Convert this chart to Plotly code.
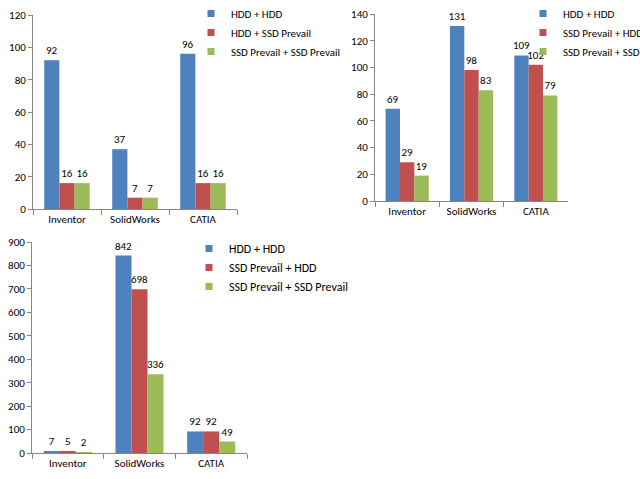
import plotly.graph_objects as go

categories = ["Inventor", "SolidWorks", "CATIA"]

c1_series = ["HDD + HDD", "HDD + SSD Prevail", "SSD Prevail + SSD Prevail"]
c1_hdd_hdd = [92, 37, 96]
c1_hdd_ssd = [16, 7, 16]
c1_ssd_ssd = [16, 7, 16]
c1_ticks = [0, 20, 40, 60, 80, 100, 120]

c2_series = ["HDD + HDD", "SSD Prevail + HDD", "SSD Prevail + SSD Prevail"]
c2_hdd_hdd = [69, 131, 109]
c2_ssd_hdd = [29, 98, 102]
c2_ssd_ssd = [19, 83, 79]
c2_ticks = [0, 20, 40, 60, 80, 100, 120, 140]

c3_series = ["HDD + HDD", "SSD Prevail + HDD", "SSD Prevail + SSD Prevail"]
c3_hdd_hdd = [7, 842, 92]
c3_ssd_hdd = [5, 698, 92]
c3_ssd_ssd = [2, 336, 49]
c3_ticks = [0, 100, 200, 300, 400, 500, 600, 700, 800, 900]

colors = ["#4F81BD", "#C0504D", "#9BBB59"]
FONT = "Carlito, Calibri, Lato, sans-serif"
W, H = 640, 479

fig = go.Figure()

charts = [
    (c1_series, [c1_hdd_hdd, c1_hdd_ssd, c1_ssd_ssd], "x", "y", "legend"),
    (c2_series, [c2_hdd_hdd, c2_ssd_hdd, c2_ssd_ssd], "x2", "y2", "legend2"),
    (c3_series, [c3_hdd_hdd, c3_ssd_hdd, c3_ssd_ssd], "x3", "y3", "legend3"),
]

for names, vals, xa, ya, lg in charts:
    for name, v, col in zip(names, vals, colors):
        fig.add_trace(go.Bar(
            x=categories, y=v, name=name, marker=dict(color=col, line=dict(width=0)),
            text=v, textposition="outside", constraintext="none", cliponaxis=False,
            textfont=dict(family=FONT, size=11, color="#000000"),
            xaxis=xa, yaxis=ya, showlegend=False,
        ))
    for name, col in zip(names, colors):
        # legend key only (small square swatch like the reference)
        fig.add_trace(go.Scatter(
            x=[None], y=[None], mode="markers", name=name,
            marker=dict(symbol="square", size=7, color=col),
            xaxis=xa, yaxis=ya, legend=lg, showlegend=True,
        ))

def px_x(p):
    return p / W

def px_y(p):
    return 1 - p / H

axis_common = dict(showline=True, linecolor="#868686", linewidth=1, ticks="outside",
                   tickcolor="#868686", showgrid=False, zeroline=False,
                   ticklabeloverflow="allow",
                   tickfont=dict(family=FONT, size=11, color="#000000"))

layout = dict(
    width=W, height=H, margin=dict(l=0, r=0, t=0, b=0, autoexpand=False),
    paper_bgcolor="white", plot_bgcolor="white",
    bargap=0.33, bargroupgap=0, barmode="group",
    font=dict(family=FONT, size=11, color="#000000"),
    xaxis=dict(domain=[px_x(33), px_x(237)], anchor="y", type="category",
               tickson="boundaries", ticklen=5, tickangle=0, **axis_common),
    yaxis=dict(domain=[px_y(209), px_y(15)], anchor="x", range=[0, 120],
               tickvals=c1_ticks, ticklen=4, **axis_common),
    xaxis2=dict(domain=[px_x(375), px_x(568)], anchor="y2", type="category",
                tickson="boundaries", ticklen=5, tickangle=0, **axis_common),
    yaxis2=dict(domain=[px_y(201), px_y(14)], anchor="x2", range=[0, 140],
                tickvals=c2_ticks, ticklen=4, **axis_common),
    xaxis3=dict(domain=[px_x(32), px_x(247)], anchor="y3", type="category",
                tickson="boundaries", ticklen=5, tickangle=0, **axis_common),
    yaxis3=dict(domain=[px_y(453), px_y(242)], anchor="x3", range=[0, 900],
                tickvals=c3_ticks, ticklen=4, **axis_common),
    legend=dict(x=px_x(191), y=px_y(-1), xanchor="left", yanchor="top",
                bgcolor="rgba(0,0,0,0)", font=dict(family=FONT, size=11),
                itemwidth=30, tracegroupgap=0),
    legend2=dict(x=px_x(523), y=px_y(-1), xanchor="left", yanchor="top",
                 bgcolor="rgba(0,0,0,0)", font=dict(family=FONT, size=11),
                 itemwidth=30, tracegroupgap=0),
    legend3=dict(x=px_x(189), y=px_y(234), xanchor="left", yanchor="top",
                 bgcolor="rgba(0,0,0,0)", font=dict(family=FONT, size=12),
                 itemwidth=30, tracegroupgap=0),
)
fig.update_layout(**layout)

# remove the default page margin so the 640x479 figure fills the window exactly
fig.write_html(
    "out.html",
    config={"displayModeBar": False},
    post_script="document.body.style.margin='0';document.body.style.overflow='hidden';",
)
